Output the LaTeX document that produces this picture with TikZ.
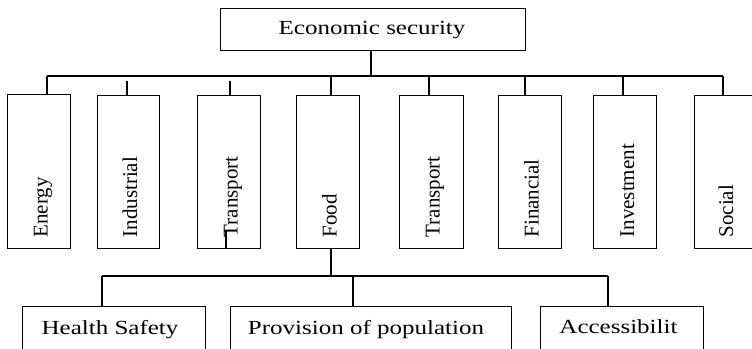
\documentclass[tikz,border=0pt]{standalone}
\usepackage{fontspec}
\setmainfont{Liberation Serif}
\newfontfamily\wideserif[FakeStretch=1.25]{Liberation Serif}
\begin{document}
\begin{tikzpicture}[x=1pt,y=-1pt,line width=1.2pt,
  sbox/.style={draw,line width=1.2pt,inner sep=0pt,anchor=north west},
  vtext/.style={rotate=90,anchor=base west,inner sep=0pt,font=\fontsize{21}{25}\selectfont},
  htext/.style={anchor=base,inner sep=0pt,font=\wideserif\fontsize{20}{24}\selectfont},
  link/.style={draw,line width=1.2pt}]
\useasboundingbox (0,0) rectangle (752,348);
\clip (0,0) rectangle (752,348);
% top box
\node[sbox,minimum width=305pt,minimum height=42pt] (top) at (220,8) {};
\node[htext] (toptxt) at (372,34.7) {Economic security};
% vertical boxes
\node[sbox,minimum width=63pt,minimum height=154pt] (energy) at (7,94) {};
\node[sbox,minimum width=62pt,minimum height=153pt] (industrial) at (97,95) {};
\node[sbox,minimum width=63pt,minimum height=153pt] (transA) at (197,95) {};
\node[sbox,minimum width=63pt,minimum height=153pt] (food) at (296,95) {};
\node[sbox,minimum width=64pt,minimum height=153pt] (transB) at (399,95) {};
\node[sbox,minimum width=63pt,minimum height=153pt] (financial) at (498,95) {};
\node[sbox,minimum width=63pt,minimum height=153pt] (investment) at (593,95) {};
\node[sbox,minimum width=63pt,minimum height=153pt] (social) at (694,95) {};
\node[vtext] (t1) at (47.5,238) {Energy};
\node[vtext] (t2) at (137,238) {Industrial};
\node[vtext] (t3) at (237.5,238) {Transport};
\node[vtext] (t4) at (336.5,238) {Food};
\node[vtext] (t5) at (439.5,238) {Transport};
\node[vtext] (t6) at (538.5,238) {Financial};
\node[vtext] (t7) at (634,238) {Investment};
\node[vtext] (t8) at (733,238) {Social};
% bottom boxes
\node[sbox,minimum width=183pt,minimum height=60pt] (health) at (22,306) {};
\node[sbox,minimum width=281pt,minimum height=60pt] (provision) at (230,306) {};
\node[sbox,minimum width=163pt,minimum height=60pt] (access) at (540,306) {};
\node[htext] (h1) at (110,334.5) {Health Safety};
\node[htext] (h2) at (366,334) {Provision of population};
\node[htext] (h3) at (618.5,333.5) {Accessibilit};
% upper connectors
\coordinate (tj) at (371,76);
\coordinate (b1) at (47,76);
\coordinate (b8) at (723,76);
\coordinate (g2) at (127,81);
\coordinate (g3) at (230,81);
\coordinate (b4) at (331,76);
\coordinate (b5) at (429,76);
\coordinate (b6) at (525,76);
\coordinate (b7) at (623,76);
\draw[link] (top.south -| tj) -- (tj);
\draw[link] (b1) -- (b8);
\draw[link] (b1) -- (b1 |- energy.north);
\draw[link] (g2) -- (g2 |- industrial.north);
\draw[link] (g3) -- (g3 |- transA.north);
\draw[link] (b4) -- (b4 |- food.north);
\draw[link] (b5) -- (b5 |- transB.north);
\draw[link] (b6) -- (b6 |- financial.north);
\draw[link] (b7) -- (b7 |- investment.north);
\draw[link] (b8) -- (b8 |- social.north);
% stray mark in Transport box
\coordinate (tm) at (226,230);
\draw[link] (tm) -- (tm |- transA.south);
% lower connectors
\coordinate (lj) at (331,276);
\coordinate (l1) at (102,276);
\coordinate (l2) at (353,276);
\coordinate (l3) at (608,276);
\draw[link] (food.south -| lj) -- (lj);
\draw[link] (l1) -- (l3);
\draw[link] (l1) -- (l1 |- health.north);
\draw[link] (l2) -- (l2 |- provision.north);
\draw[link] (l3) -- (l3 |- access.north);
\end{tikzpicture}
\end{document}
